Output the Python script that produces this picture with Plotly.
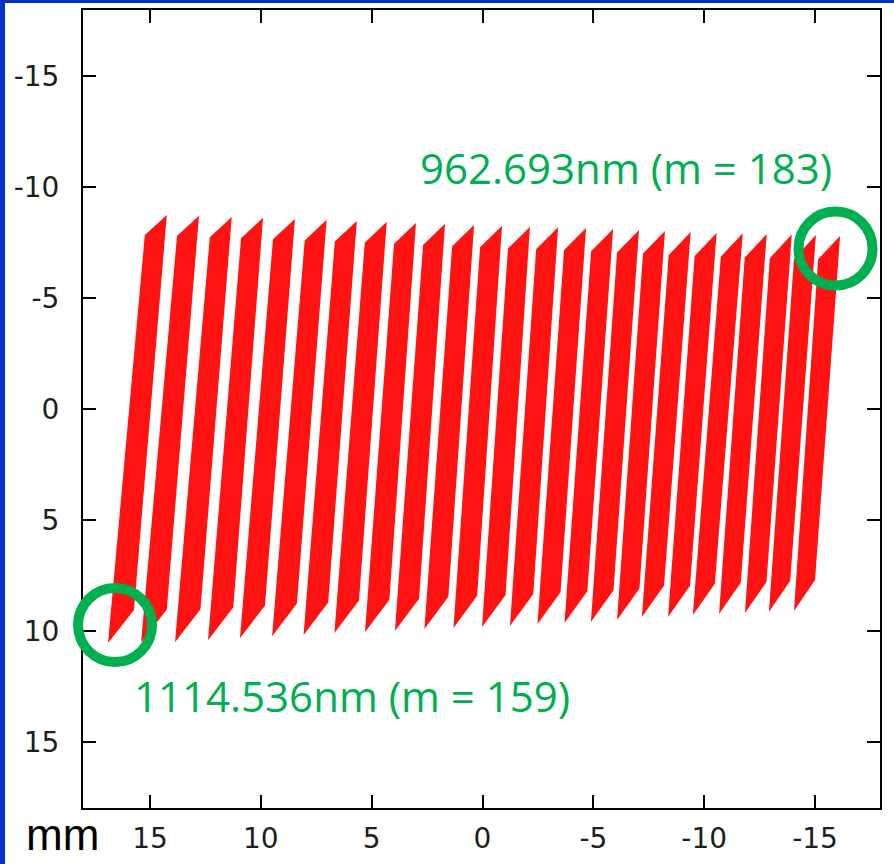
import plotly.graph_objects as go

# Echelle orders imaged on the detector (mm); each order is a four-cornered strip
orders = list(range(159, 184))

top_left_x = [15.23, 13.78, 12.30, 10.89, 9.45, 8.02, 6.66, 5.31, 3.99, 2.68, 1.37, 0.11, -1.15,
              -2.42, -3.68, -4.90, -6.07, -7.24, -8.40, -9.57, -10.75, -11.83, -12.96, -14.05, -15.14]
top_left_y = [-7.84, -7.79, -7.74, -7.69, -7.64, -7.59, -7.54, -7.49, -7.44, -7.39, -7.33, -7.28, -7.23,
              -7.20, -7.16, -7.11, -7.05, -7.00, -6.94, -6.89, -6.86, -6.82, -6.79, -6.76, -6.75]
top_right_x = [14.24, 12.79, 11.31, 9.90, 8.46, 7.03, 5.67, 4.32, 3.00, 1.69, 0.38, -0.88, -2.14,
               -3.41, -4.67, -5.89, -7.06, -8.23, -9.39, -10.56, -11.74, -12.82, -13.95, -15.04, -16.13]
top_right_y = [-8.74, -8.70, -8.65, -8.61, -8.56, -8.52, -8.47, -8.43, -8.38, -8.34, -8.29, -8.25, -8.20,
               -8.18, -8.15, -8.11, -8.06, -8.02, -7.97, -7.93, -7.91, -7.88, -7.86, -7.84, -7.79]
bottom_right_x = [15.72, 14.24, 12.72, 11.24, 9.81, 8.37, 6.96, 5.57, 4.20, 2.86, 1.54, 0.24, -1.04,
                  -2.29, -3.52, -4.73, -5.91, -7.08, -8.19, -9.36, -10.48, -11.65, -12.81, -13.88, -15.00]
bottom_right_y = [9.05, 9.03, 9.02, 8.93, 8.85, 8.76, 8.71, 8.63, 8.59, 8.55, 8.46, 8.41, 8.38,
                  8.33, 8.25, 8.21, 8.16, 8.08, 7.95, 7.96, 7.87, 7.82, 7.79, 7.74, 7.70]
bottom_left_x = [16.89, 15.40, 13.87, 12.38, 10.94, 9.49, 8.07, 6.68, 5.30, 3.95, 2.62, 1.31, 0.02,
                 -1.24, -2.48, -3.70, -4.89, -6.07, -7.19, -8.37, -9.49, -10.67, -11.84, -12.92, -14.05]
bottom_left_y = [10.54, 10.52, 10.50, 10.41, 10.32, 10.23, 10.18, 10.09, 10.05, 10.00, 9.91, 9.86, 9.82,
                 9.77, 9.68, 9.64, 9.59, 9.50, 9.37, 9.37, 9.28, 9.23, 9.19, 9.14, 9.10]

# Labelled orders (order number, wavelength in nm)
label_orders = [183, 159]
label_wavelengths = [962.693, 1114.536]

x_ticks = [15, 10, 5, 0, -5, -10, -15]
y_ticks = [-15, -10, -5, 0, 5, 10, 15]

RED = "#ff1212"
GREEN = "#00b050"
BLUE = "#0532c8"

xs, ys = [], []
for i in range(len(orders)):
    xs += [top_left_x[i], top_right_x[i], bottom_right_x[i], bottom_left_x[i], top_left_x[i], None]
    ys += [top_left_y[i], top_right_y[i], bottom_right_y[i], bottom_left_y[i], top_left_y[i], None]

fig = go.Figure()
fig.add_trace(go.Scatter(
    x=xs, y=ys, mode="lines", fill="toself", fillcolor=RED,
    line=dict(width=0, color=RED), hoverinfo="skip", showlegend=False,
))

axis_common = dict(
    showline=True, linecolor="black", linewidth=2, mirror="ticks",
    ticks="inside", ticklen=13, tickwidth=2, tickcolor="black",
    showgrid=False, zeroline=False, automargin=False,
    tickfont=dict(family="DejaVu Sans", size=28, color="#1e1e1e"),
)

fig.update_xaxes(range=[18.02, -17.93], tickmode="array", tickvals=x_ticks,
                 ticktext=[str(v) for v in x_ticks], ticklabelstandoff=4, **axis_common)
fig.update_yaxes(range=[17.97, -17.97], tickmode="array", tickvals=y_ticks,
                 ticktext=[str(v) for v in y_ticks], ticklabelstandoff=16, **axis_common)

# Circles marking the two ends of the order range
circle_centres = [(0.9442, 0.7011), (0.0402, 0.2293)]
shapes = []
for cx, cy in circle_centres:
    shapes.append(dict(
        type="circle", xref="paper", yref="paper",
        xsizemode="pixel", ysizemode="pixel", xanchor=cx, yanchor=cy,
        x0=-37, x1=37, y0=-37, y1=37,
        line=dict(color=GREEN, width=10), layer="above",
    ))

# Blue slide edges on the left and top
shapes.append(dict(type="rect", xref="paper", yref="paper",
                   xsizemode="pixel", ysizemode="pixel", xanchor=0, yanchor=0,
                   x0=-84, x1=-78, y0=-60, y1=812,
                   fillcolor=BLUE, line=dict(width=0), layer="above"))
shapes.append(dict(type="rect", xref="paper", yref="paper",
                   xsizemode="pixel", ysizemode="pixel", xanchor=0, yanchor=1,
                   x0=-84, x1=820, y0=7, y1=12,
                   fillcolor=BLUE, line=dict(width=0), layer="above"))

label_positions = [(0.4203, 0.803), (0.0615, 0.1416)]
annotations = []
for (px, py), m, wl in zip(label_positions, label_orders, label_wavelengths):
    annotations.append(dict(
        xref="paper", yref="paper", x=px, y=py, xanchor="left", yanchor="middle",
        text=f"{wl:.3f}nm (m = {m})", showarrow=False,
        font=dict(family="Open Sans", size=42, color=GREEN),
    ))
annotations.append(dict(
    xref="paper", yref="paper", x=-0.074, y=-0.0326, xanchor="left", yanchor="middle",
    text="mm", showarrow=False,
    font=dict(family="Liberation Sans", size=44, color="black"),
))

fig.update_layout(
    width=894, height=864,
    margin=dict(l=83, r=14, t=10, b=56),
    paper_bgcolor="white", plot_bgcolor="white",
    shapes=shapes, annotations=annotations,
    showlegend=False,
)

fig.write_html("out.html")
